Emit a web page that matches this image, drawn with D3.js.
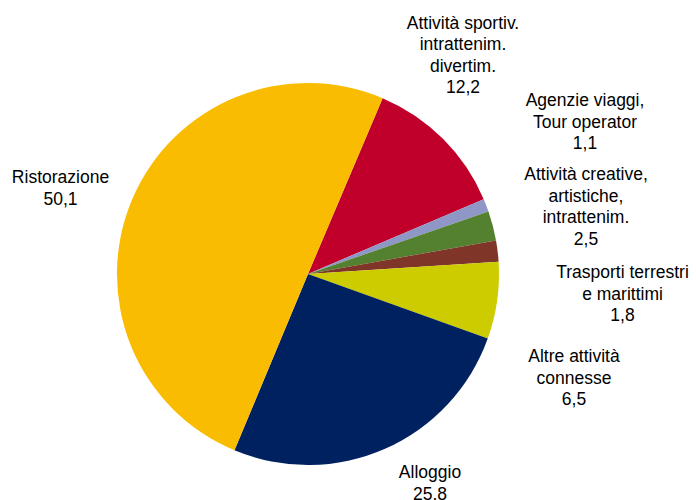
<!DOCTYPE html>
<html>
<head>
<meta charset="utf-8">
<script src="https://cdn.jsdelivr.net/npm/d3@7"></script>
<style>
  body { margin: 0; background: #fff; }
  text { font-family: "Liberation Sans", Arial, sans-serif; font-size: 17.5px; fill: #000; }
</style>
</head>
<body>
<div id="container"></div>
<script>
/* DATA */
const categories = [
  ["Attività sportiv.", "intrattenim.", "divertim."],
  ["Agenzie viaggi,", "Tour operator"],
  ["Attività creative,", "artistiche,", "intrattenim."],
  ["Trasporti terrestri", "e marittimi"],
  ["Altre attività", "connesse"],
  ["Alloggio"],
  ["Ristorazione"]
]
const values = [12.2, 1.1, 2.5, 1.8, 6.5, 25.8, 50.1]
const valueLabels = ["12,2", "1,1", "2,5", "1,8", "6,5", "25.8", "50,1"]

/* CONSTANTS AND GLOBALS */
const width = 696,
      height = 500,
      cx = 308, cy = 274,
      radius = 191,
      lineHeight = 21.5

const colors = ["#c0002a", "#8e97c6", "#538130", "#7f3628", "#cccc00", "#00215f", "#f9bc00"]

// label anchors: centre x, first baseline, relative to pie centre
const labelPos = [
  [155, -245.5], [277, -168], [278, -94], [314.5, 4],
  [266, 88], [122, 204], [-247.5, -91]
]

const svg = d3.select("#container")
              .append("svg")
              .attr("width", width)
              .attr("height", height)

const g = svg.append("g")
             .attr("transform", `translate(${cx}, ${cy})`)

const startAngle = 23 * Math.PI / 180

const pie = d3.pie()
              .sort(null)
              .value(d => d)
              .startAngle(startAngle)
              .endAngle(startAngle + 2 * Math.PI)

const arc = d3.arc()
              .innerRadius(0)
              .outerRadius(radius)

g.selectAll("path")
 .data(pie(values))
 .join("path")
 .attr("d", arc)
 .attr("fill", (d, i) => colors[i])

// labels
const labels = g.selectAll("text.label")
                .data(categories)
                .join("text")
                .attr("class", "label")
                .attr("text-anchor", "middle")
                .attr("transform", (d, i) => `translate(${labelPos[i][0]}, ${labelPos[i][1]})`)

labels.selectAll("tspan")
      .data((d, i) => d.concat([valueLabels[i]]))
      .join("tspan")
      .attr("x", 0)
      .attr("y", (d, j) => j * lineHeight)
      .text(d => d)
</script>
</body>
</html>
